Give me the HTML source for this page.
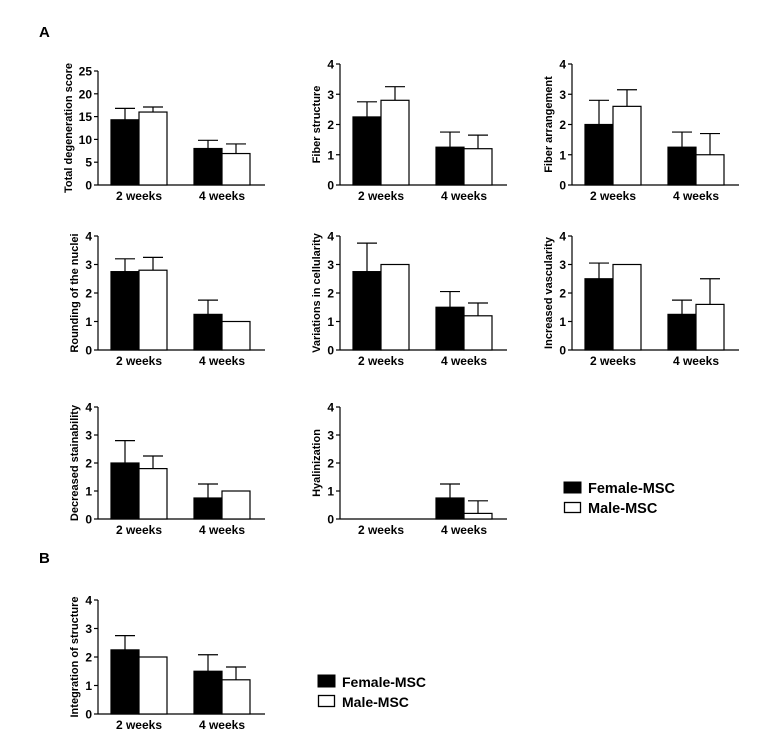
<!DOCTYPE html>
<html><head><meta charset="utf-8"><style>
body{margin:0;background:#fff;font-family:"Liberation Sans",Arial,sans-serif}
svg text{font-family:"Liberation Sans",Arial,sans-serif;font-weight:bold}
</style></head><body>
<svg id="fig" width="774" height="738" xmlns="http://www.w3.org/2000/svg">
<text x="39" y="37" font-size="15">A</text>
<text x="39" y="563" font-size="15">B</text>
<g id="charts"></g>
<g>
<rect x="564" y="482" width="17" height="11" fill="#000" stroke="#000"/>
<text x="588" y="493" font-size="14.5">Female-MSC</text>
<rect x="564.5" y="502.5" width="16" height="10" fill="#fff" stroke="#000" stroke-width="1.3"/>
<text x="588" y="513" font-size="14.5">Male-MSC</text>
</g>
<g>
<rect x="318" y="675" width="17" height="12" fill="#000" stroke="#000"/>
<text x="342" y="687" font-size="14">Female-MSC</text>
<rect x="318.5" y="695.5" width="16" height="11" fill="#fff" stroke="#000" stroke-width="1.3"/>
<text x="342" y="707" font-size="14">Male-MSC</text>
</g>
</svg>
<script>
const categories = ["2 weeks","4 weeks"];
const titles = ["Total  degeneration score","Fiber structure","Fiber arrangement","Rounding of the nuclei","Variations in cellularity","Increased vascularity","Decreased stainability","Hyalinization","Integration of structure"];
const femaleMeans = [[14.3,8],[2.25,1.25],[2,1.25],[2.75,1.25],[2.75,1.5],[2.5,1.25],[2,0.75],[0,0.75],[2.25,1.5]];
const femaleErr = [[2.5,1.8],[0.5,0.5],[0.8,0.5],[0.45,0.5],[1,0.55],[0.55,0.5],[0.8,0.5],[0,0.5],[0.5,0.58]];
const maleMeans = [[16,6.9],[2.8,1.2],[2.6,1],[2.8,1],[3,1.2],[3,1.6],[1.8,1],[0,0.2],[2,1.2]];
const maleErr = [[1.1,2.1],[0.45,0.45],[0.55,0.7],[0.45,0],[0,0.45],[0,0.9],[0.45,0],[0,0.45],[0,0.45]];
const yTicks = [[0,5,10,15,20,25],[0,1,2,3,4],[0,1,2,3,4],[0,1,2,3,4],[0,1,2,3,4],[0,1,2,3,4],[0,1,2,3,4],[0,1,2,3,4],[0,1,2,3,4]];

const layout=[[98,71,185],[340,64,185],[572,64,185],[98,236,350],[340,236,350],[572,236,350],[98,407,519],[340,407,519],[98,600,714]];
const NS="http://www.w3.org/2000/svg";
const root=document.getElementById("charts");
function mk(tag,attrs,parent){const e=document.createElementNS(NS,tag);for(const k in attrs)e.setAttribute(k,attrs[k]);parent.appendChild(e);return e;}
titles.forEach((t,i)=>{
  const [ax,top,bot]=layout[i];const ticks=yTicks[i];const ymax=ticks[ticks.length-1];
  const y=v=>bot-(v/ymax)*(bot-top);
  const g=mk("g",{},root);
  
  
  const yax=mk("line",{x1:ax,y1:top,x2:ax,y2:bot,stroke:"#000","stroke-width":1.2},g);
  
  
  const xax=mk("line",{x1:ax,y1:bot,x2:ax+167,y2:bot,stroke:"#000","stroke-width":1.2},g);
  
  
  ticks.forEach(v=>{
    mk("line",{x1:ax-4,y1:y(v),x2:ax,y2:y(v),stroke:"#000","stroke-width":1.2},g);
    const tx=mk("text",{x:ax-6,y:y(v)+4.5,"font-size":12,"text-anchor":"end"},g);tx.textContent=v;
    
    
  });
  const tt=mk("text",{x:0,y:0,"font-size":11,"text-anchor":"middle",transform:`translate(${ax-(ymax>5?26:20)},${(top+bot)/2}) rotate(-90)`},g);
  tt.textContent=t;
  
  
  categories.forEach((c,j)=>{
    const gx=ax+13+j*83;
    const lab=mk("text",{x:gx+28,y:bot+15,"font-size":12,"text-anchor":"middle"},g);lab.textContent=c;
    
    
    [[femaleMeans,femaleErr,"#000"],[maleMeans,maleErr,"#fff"]].forEach(([m,e,fill],s)=>{
      const v=m[i][j],er=e[i][j],bx=gx+s*28,cx=bx+14;
      if(v>0){
        if(er>0){
          mk("line",{x1:cx,y1:y(v),x2:cx,y2:y(v+er),stroke:"#000","stroke-width":1.2},g);
          mk("line",{x1:cx-10,y1:y(v+er),x2:cx+10,y2:y(v+er),stroke:"#000","stroke-width":1.2},g);
        }
        const b=mk("rect",{x:bx,y:y(v),width:28,height:bot-y(v),fill:fill,stroke:"#000","stroke-width":1.2},g);
        
        
      }
    });
  });
});
</script>
</body></html>
